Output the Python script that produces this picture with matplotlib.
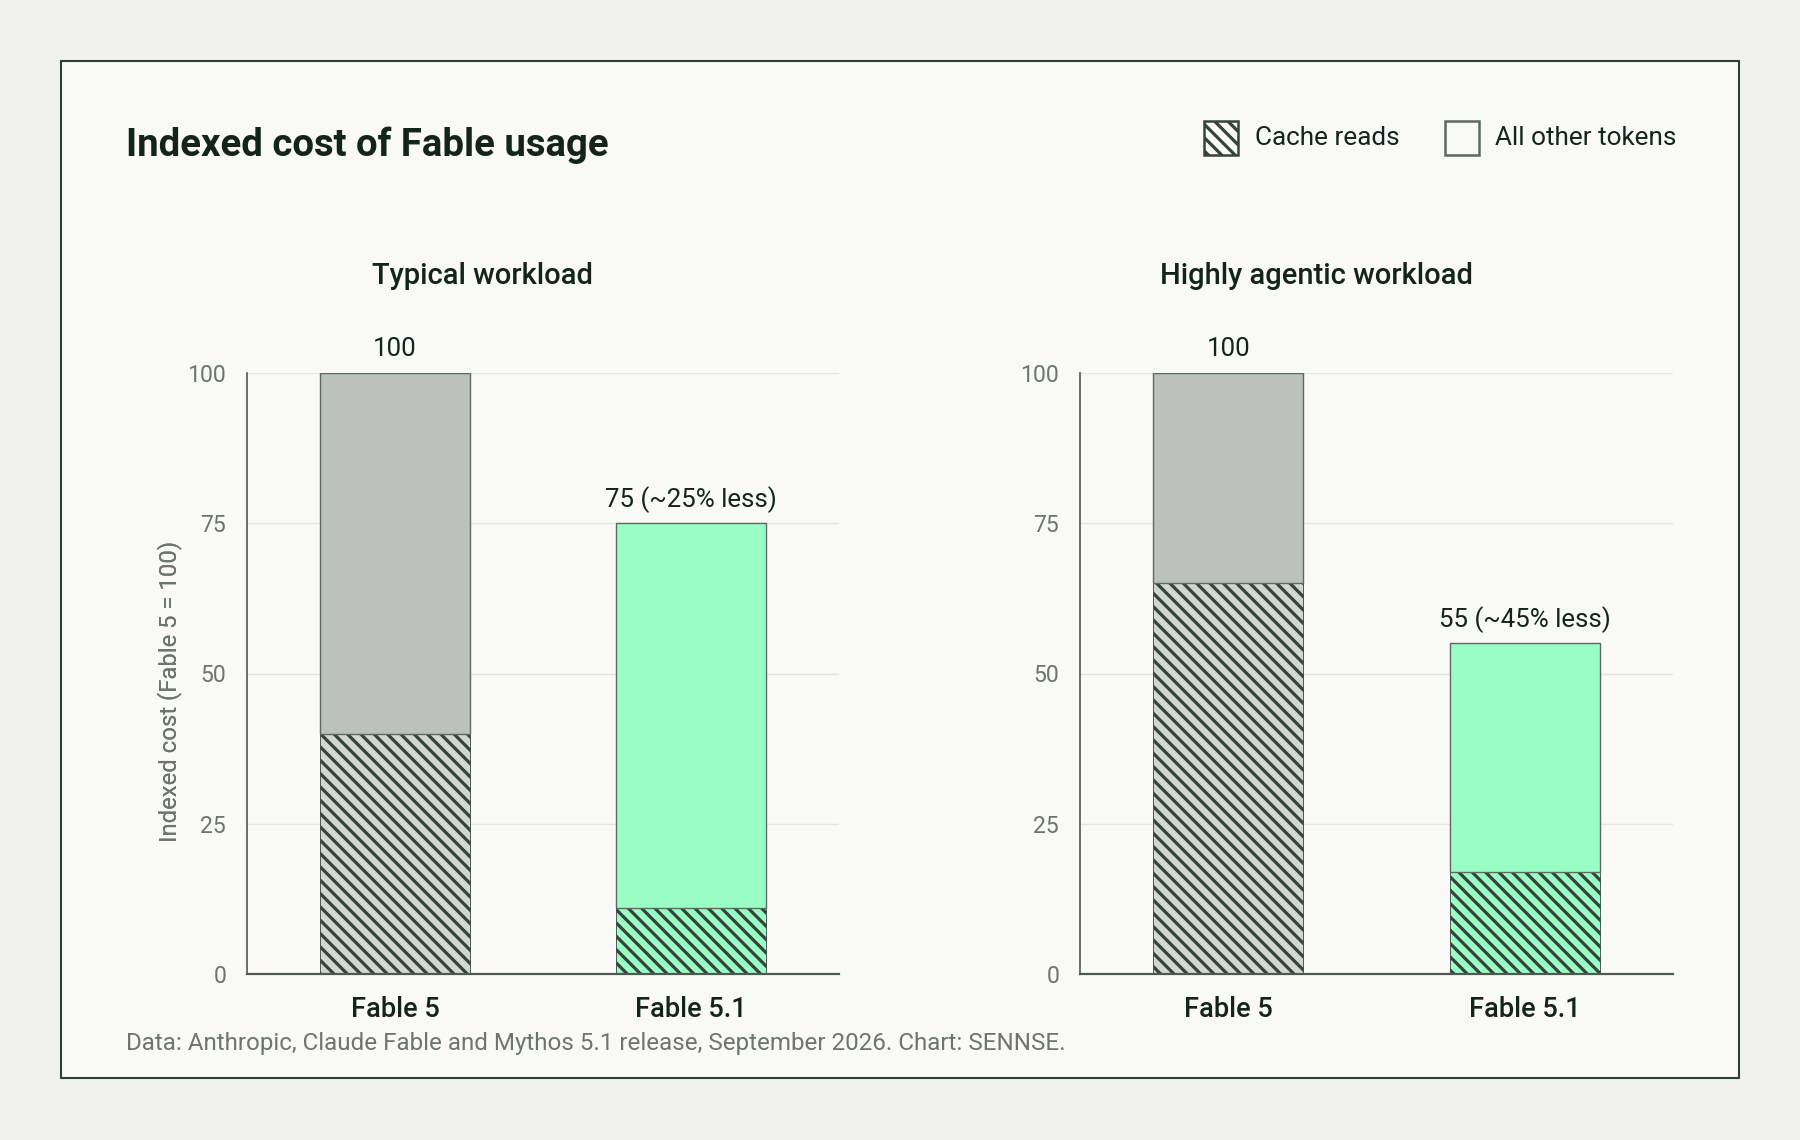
import matplotlib
matplotlib.use("Agg")
import matplotlib.pyplot as plt
from matplotlib.patches import Rectangle

# ---------------- data ----------------
categories = ["Fable 5", "Fable 5.1"]
panel_titles = ["Typical workload", "Highly agentic workload"]
cache_typical = [40, 11]
other_typical = [60, 64]
cache_agentic = [65, 17]
other_agentic = [35, 38]
labels_typical = ["100", "75 (~25% less)"]
labels_agentic = ["100", "55 (~45% less)"]
yticks = [0, 25, 50, 75, 100]
legend_labels = ["Cache reads", "All other tokens"]
title = "Indexed cost of Fable usage"
ylabel = "Indexed cost (Fable 5 = 100)"
footer = "Data: Anthropic, Claude Fable and Mythos 5.1 release, September 2026. Chart: SENNSE."

# ---------------- style ----------------
W, H = 1800, 1140
DPI = 200
plt.rcParams['font.family'] = ['Roboto', 'DejaVu Sans']
plt.rcParams['hatch.linewidth'] = 1.15

OUTER_BG = "#f1f2ee"
PANEL_BG = "#f9faf8"
FRAME = "#2f3e37"
DARK = "#14241d"
GRAY_TXT = "#6d7570"
GRAY_OTHER = "#bcc1bd"
GRAY_CACHE = "#d2d6d2"
GREEN = "#9affc4"
HATCH = "#36423c"
EDGE = "#5d6863"
GRID = "#e4e5e2"
SPINE = "#4d5853"
HATCH_PAT = '\\' * 5

fig = plt.figure(figsize=(W / DPI, H / DPI), dpi=DPI, facecolor=OUTER_BG)

def fx(px):
    return px / W

def fy(py):
    return 1 - py / H

# panel
fig.patches.append(Rectangle((fx(61), fy(1078)), fx(1739) - fx(61), fy(61) - fy(1078),
                             transform=fig.transFigure, facecolor=PANEL_BG,
                             edgecolor=FRAME, linewidth=0.75, zorder=-10))

fig.text(fx(126), fy(156), title, fontsize=13.8, fontweight='bold', color=DARK,
         ha='left', va='baseline')

# legend (manual)
box = 34
leg = [(1204, 1255, True), (1445, 1495, False)]
for (bx, tx, hatched), lab in zip(leg, legend_labels):
    r = Rectangle((fx(bx), fy(121 + box)), fx(box), box / H, transform=fig.transFigure,
                  facecolor=PANEL_BG, edgecolor=HATCH if hatched else EDGE,
                  hatch=HATCH_PAT if hatched else None, linewidth=0.9)
    fig.patches.append(r)
    fig.text(fx(tx), fy(138), lab, fontsize=9.4, color=DARK, ha='left', va='center')

axes_specs = [
    (247, 592, cache_typical, other_typical, labels_typical, panel_titles[0], 482),
    (1080, 593, cache_agentic, other_agentic, labels_agentic, panel_titles[1], 1317),
]
ax_top, ax_bot = 373, 974
cache_colors = [GRAY_CACHE, GREEN]
other_colors = [GRAY_OTHER, GREEN]

for left, width, cache, other, labs, ptitle, tcx in axes_specs:
    ax = fig.add_axes([fx(left), fy(ax_bot), fx(width), (ax_bot - ax_top) / H])
    ax.set_facecolor('none')
    x = list(range(len(categories)))
    ax.bar(x, cache, width=0.505, color=cache_colors, edgecolor=HATCH,
           hatch=HATCH_PAT, linewidth=0.3, zorder=3)
    ax.bar(x, other, bottom=cache, width=0.505, color=other_colors,
           edgecolor=EDGE, linewidth=0.5, zorder=3)
    totals = [c + o for c, o in zip(cache, other)]
    for xi, t, lab in zip(x, totals, labs):
        ax.annotate(lab, xy=(xi, t), xytext=(0, 6), textcoords='offset points',
                    ha='center', va='baseline', fontsize=9.3, color=DARK)
    ax.set_xlim(-0.5, 1.5)
    ax.set_ylim(0, 100)
    ax.set_yticks(yticks)
    ax.set_xticks(x)
    ax.set_xticklabels(categories, fontsize=9.8, fontweight='medium', color=DARK)
    ax.tick_params(axis='y', length=0, pad=7.5, labelsize=8.3, labelcolor=GRAY_TXT)
    ax.tick_params(axis='x', length=0, pad=8)
    ax.grid(axis='y', color=GRID, linewidth=0.5, zorder=0)
    ax.set_axisbelow(True)
    for s in ['top', 'right']:
        ax.spines[s].set_visible(False)
    ax.spines['left'].set_color(SPINE)
    ax.spines['left'].set_linewidth(0.6)
    ax.spines['bottom'].set_color(SPINE)
    ax.spines['bottom'].set_linewidth(0.8)
    ax.spines['bottom'].set_zorder(4)
    ax.set_ylabel(ylabel, fontsize=8.6, color=GRAY_TXT)
    ax.yaxis.set_label_coords((182 - left) / width, 0.47)
    fig.text(fx(tcx), fy(284), ptitle, fontsize=10.5, fontweight='medium', color=DARK,
             ha='center', va='baseline')

fig.text(fx(126), fy(1050), footer, fontsize=8.7, color=GRAY_TXT, ha='left', va='baseline')

fig.savefig("out.png", dpi=DPI, facecolor=OUTER_BG)
